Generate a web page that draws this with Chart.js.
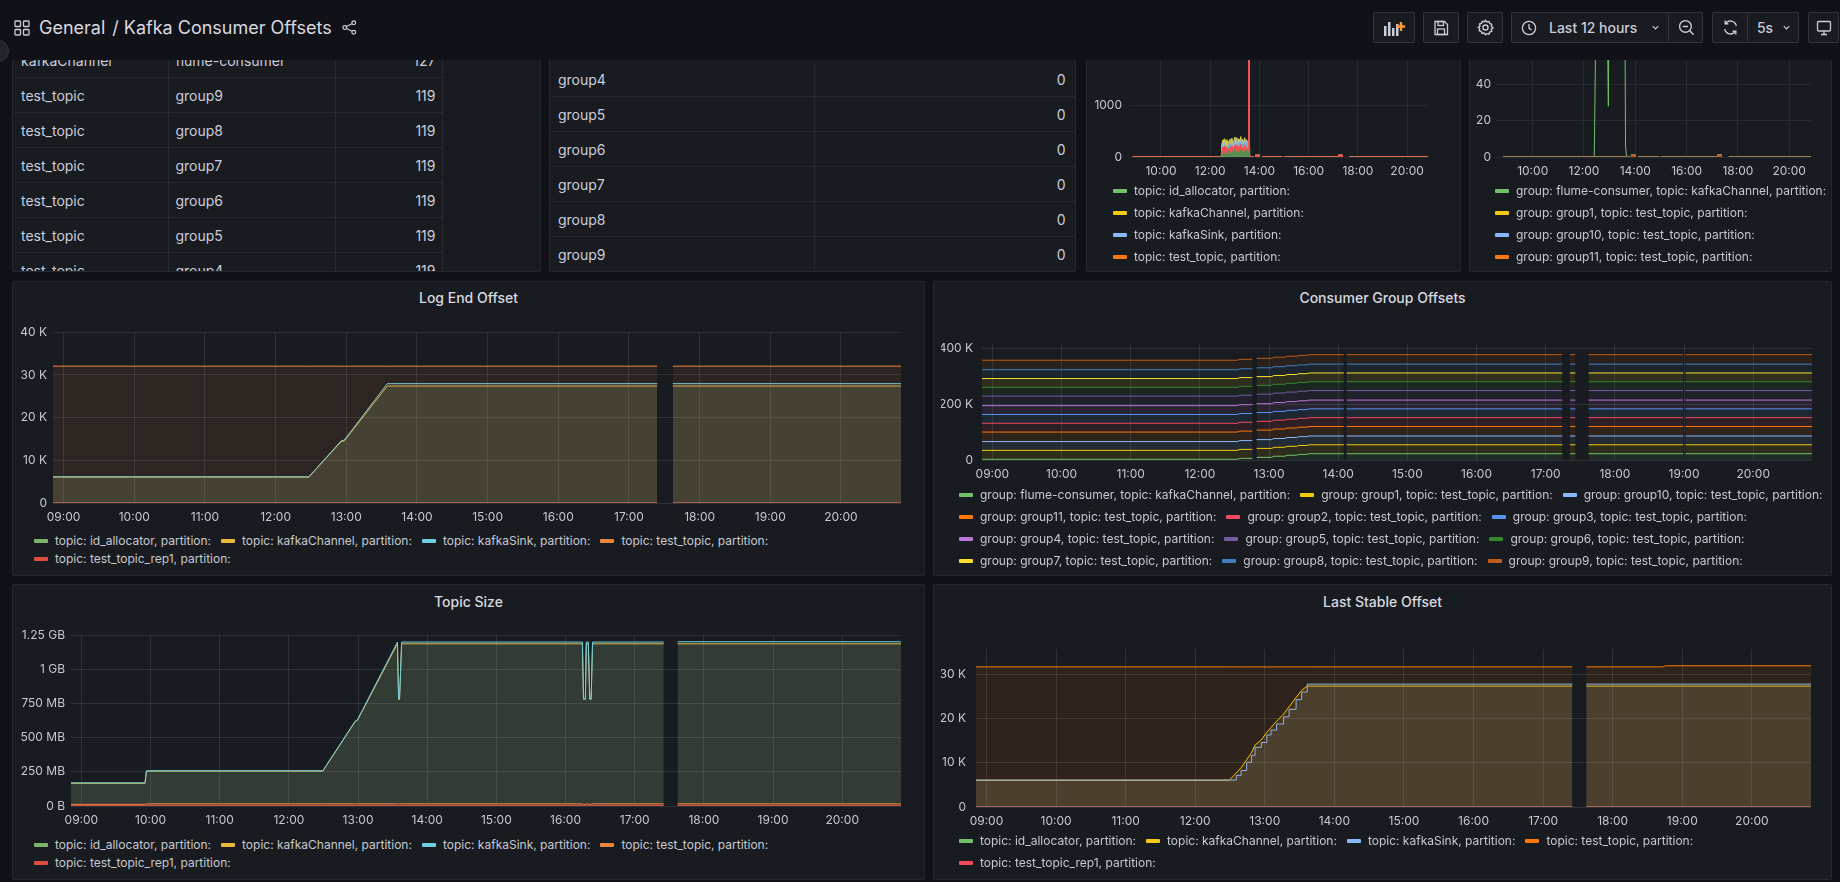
<!DOCTYPE html>
<html>
<head>
<meta charset="utf-8">
<title>Kafka Consumer Offsets</title>
<script src="https://cdn.jsdelivr.net/npm/chart.js@4.4.1/dist/chart.umd.min.js"></script>
<style>
  body { margin: 0; width: 1840px; height: 882px; overflow: hidden; background: #111217;
         font-family: Inter, "Noto Sans", sans-serif; color: #ccccdc; position: relative; }
  .panel { position: absolute; background: #181b1f; border: 1px solid rgba(204,204,220,0.08);
           border-radius: 2px; box-sizing: border-box; overflow: hidden; }
  .title { position: absolute; left: 0; right: 0; text-align: center; font-size: 14px;
           font-weight: 500; line-height: 18px; color: #d8d9e0; }
  .chart { position: absolute; }
  .legend { position: absolute; display: flex; flex-wrap: wrap; font-size: 12px; color: #c7c8d1; }
  .legend.col { flex-direction: column; flex-wrap: nowrap; }
  .legend .item { display: flex; align-items: center; margin-right: 10px; white-space: nowrap; }
  .legend .sw { width: 14px; height: 4px; border-radius: 1px; margin-right: 7px; flex: none; }
  table { position: absolute; border-collapse: collapse; table-layout: fixed; font-size: 14px; color: #ccccdc; }
  td { height: 34px; padding: 0 7px; border-bottom: 1px solid rgba(204,204,220,0.08);
       border-right: 1px solid rgba(204,204,220,0.08); white-space: nowrap; overflow: hidden; }
  td:last-child { text-align: right; }
  #header { position: absolute; left: 0; top: 0; width: 1840px; height: 60px; background: #111217; z-index: 10; }
  #crumb { position: absolute; left: 14px; top: 17px; display: flex; align-items: center;
           font-size: 18px; color: #d8d9e0; }
  .btn { position: absolute; top: 12px; height: 31px; box-sizing: border-box; background: #181b1f;
         border: 1px solid rgba(204,204,220,0.14); border-radius: 2px; display: flex; align-items: center;
         justify-content: center; color: #ccccdc; font-size: 14px; font-weight: 500; }
  .btn svg { display: block; }
  .sep { border-left: 1px solid rgba(204,204,220,0.14); }
</style>
</head>
<body>

<div id="header">
  <div id="crumb">
    <svg width="16" height="16" viewBox="0 0 16 16" fill="none" stroke="#ccccdc" stroke-width="1.3">
      <rect x="1" y="1" width="5.5" height="5.5" rx="0.8"/><rect x="9.5" y="1" width="5.5" height="5.5" rx="0.8"/>
      <rect x="1" y="9.5" width="5.5" height="5.5" rx="0.8"/><rect x="9.5" y="9.5" width="5.5" height="5.5" rx="0.8"/>
    </svg>
    <span style="margin-left:9px">General</span>
    <span style="margin-left:7px">/ Kafka Consumer Offsets</span>
    <svg style="margin-left:10px" width="15" height="15" viewBox="0 0 16 16" fill="none" stroke="#ccccdc" stroke-width="1.3">
      <circle cx="12.5" cy="3" r="2"/><circle cx="3" cy="8" r="2"/><circle cx="12.5" cy="13" r="2"/>
      <path d="M4.8 7 L10.7 4 M4.8 9 L10.7 12"/>
    </svg>
  </div>
  <div class="btn" style="left:1373px;width:42px">
    <svg width="22" height="18" viewBox="0 0 22 18"><g fill="#ccccdc"><rect x="1" y="7" width="2.5" height="10"/>
      <rect x="5" y="3" width="2.5" height="14"/><rect x="9" y="9" width="2.5" height="8"/><rect x="13" y="5" width="2.5" height="12"/></g>
      <path d="M18 3v9M13.5 7.5h9" stroke="#ff9830" stroke-width="2.4"/></svg>
  </div>
  <div class="btn" style="left:1423px;width:36px">
    <svg width="16" height="16" viewBox="0 0 16 16" fill="none" stroke="#ccccdc" stroke-width="1.3">
      <path d="M2 1.5h9.5l3 3v10h-12.5z"/><rect x="5" y="1.5" width="5.5" height="4"/><rect x="4.5" y="9" width="7" height="5.5"/></svg>
  </div>
  <div class="btn" style="left:1467px;width:36px">
    <svg width="17" height="17" viewBox="0 0 16 16" fill="none" stroke="#ccccdc" stroke-width="1.3">
      <circle cx="8" cy="8" r="2.4"/>
      <path d="M8 1.2l1.3 1.6 2-.4.7 1.9 1.9.7-.4 2 1.6 1.3-1.6 1.3.4 2-1.9.7-.7 1.9-2-.4L8 14.8l-1.3-1.6-2 .4-.7-1.9-1.9-.7.4-2L1.2 8l1.6-1.3-.4-2 1.9-.7.7-1.9 2 .4z"/></svg>
  </div>
  <div class="btn" style="left:1511px;width:192px;justify-content:flex-start">
    <svg style="margin-left:9px" width="16" height="16" viewBox="0 0 16 16" fill="none" stroke="#ccccdc" stroke-width="1.3">
      <circle cx="8" cy="8" r="6.6"/><path d="M8 4v4.3l2.6 1.6"/></svg>
    <span style="margin-left:12px">Last 12 hours</span>
    <svg style="margin-left:14px" width="9" height="9" viewBox="0 0 10 10" fill="none" stroke="#ccccdc" stroke-width="1.3"><path d="M2 3.5l3 3 3-3"/></svg>
    <div class="sep" style="position:absolute;left:156px;top:0;height:29px;width:35px;display:flex;align-items:center;justify-content:center">
      <svg width="17" height="17" viewBox="0 0 16 16" fill="none" stroke="#ccccdc" stroke-width="1.3">
        <circle cx="7" cy="7" r="5.5"/><path d="M11 11l3.8 3.8M4.5 7h5"/></svg>
    </div>
  </div>
  <div class="btn" style="left:1712px;width:87px;justify-content:flex-start">
    <svg style="margin-left:9px" width="17" height="17" viewBox="0 0 16 16" fill="none" stroke="#ccccdc" stroke-width="1.3">
      <path d="M13.5 6.5A5.8 5.8 0 0 0 3 4.5M2.5 9.5A5.8 5.8 0 0 0 13 11.5"/><path d="M3 1.5v3h3M13 14.5v-3h-3"/></svg>
    <div class="sep" style="position:absolute;left:34px;top:0;height:29px;width:52px;display:flex;align-items:center;justify-content:center">
      <span>5s</span>
      <svg style="margin-left:9px" width="9" height="9" viewBox="0 0 10 10" fill="none" stroke="#ccccdc" stroke-width="1.3"><path d="M2 3.5l3 3 3-3"/></svg>
    </div>
  </div>
  <div class="btn" style="left:1808px;width:31px">
    <svg width="16" height="16" viewBox="0 0 16 16" fill="none" stroke="#ccccdc" stroke-width="1.3">
      <rect x="1.5" y="1.5" width="13" height="9.5" rx="1"/><path d="M5 14.5h6M8 11v3.5"/></svg>
  </div>
  <div style="position:absolute;left:-13px;top:40px;width:20px;height:20px;border-radius:50%;background:#22252b;border:1px solid #33363d"></div>
</div>

<!-- top row -->
<div class="panel" style="left:12px;top:20px;width:529px;height:252px">
  <table id="tableOffsets" style="left:1px;top:22px;width:428px">
    <colgroup><col style="width:154px"><col style="width:167px"><col style="width:107px"></colgroup>
    <tbody></tbody>
  </table>
</div>
<div class="panel" style="left:549px;top:20px;width:527px;height:252px">
  <table id="tableLag" style="left:1px;top:41px;width:525px">
    <colgroup><col style="width:263px"><col style="width:262px"></colgroup>
    <tbody></tbody>
  </table>
</div>
<div class="panel" style="left:1086px;top:20px;width:375px;height:252px">
  <div class="chart" style="left:2px;top:18px;width:349px;height:142px"><canvas id="rateChart"></canvas></div>
  <div class="legend col" id="rateLegend" style="left:26px;top:159px;line-height:22px"></div>
</div>
<div class="panel" style="left:1469px;top:20px;width:363px;height:252px">
  <div class="chart" style="left:1px;top:15px;width:352px;height:145px"><canvas id="lagChart"></canvas></div>
  <div class="legend col" id="lagLegend" style="left:25px;top:159px;line-height:22px"></div>
</div>

<!-- middle row -->
<div class="panel" style="left:12px;top:281px;width:913px;height:295px">
  <div class="title" style="top:7px">Log End Offset</div>
  <div class="chart" style="left:2px;top:37px;width:896px;height:210px"><canvas id="leoChart"></canvas></div>
  <div class="legend" id="leoLegend" style="left:21px;top:250px;width:850px;line-height:18px"></div>
</div>
<div class="panel" style="left:933px;top:281px;width:899px;height:295px">
  <div class="title" style="top:7px">Consumer Group Offsets</div>
  <div class="chart" style="left:7px;top:45px;width:881px;height:158px"><canvas id="cgChart"></canvas></div>
  <div class="legend" id="cgLegend" style="left:25px;top:202px;width:950px;line-height:22px"></div>
</div>

<!-- bottom row -->
<div class="panel" style="left:12px;top:584px;width:913px;height:296px">
  <div class="title" style="top:8px">Topic Size</div>
  <div class="chart" style="left:2px;top:37px;width:896px;height:210px"><canvas id="tsChart"></canvas></div>
  <div class="legend" id="tsLegend" style="left:21px;top:251px;width:850px;line-height:18px"></div>
</div>
<div class="panel" style="left:933px;top:584px;width:899px;height:296px">
  <div class="title" style="top:8px">Last Stable Offset</div>
  <div class="chart" style="left:7px;top:47px;width:880px;height:201px"><canvas id="lsoChart"></canvas></div>
  <div class="legend" id="lsoLegend" style="left:25px;top:245px;width:820px;line-height:22px"></div>
</div>

<script>
// ---- names & palettes ----
var topics = ['id_allocator', 'kafkaChannel', 'kafkaSink', 'test_topic', 'test_topic_rep1'];
var groups = ['flume-consumer', 'group1', 'group10', 'group11', 'group2', 'group3',
              'group4', 'group5', 'group6', 'group7', 'group8', 'group9'];
var groupTopics = ['kafkaChannel', 'test_topic', 'test_topic', 'test_topic', 'test_topic', 'test_topic',
                   'test_topic', 'test_topic', 'test_topic', 'test_topic', 'test_topic', 'test_topic'];
var classicColors = ['#7EB26D', '#EAB839', '#6ED0E0', '#EF843C', '#E24D42'];
var paletteColors = ['#73BF69', '#F2CC0C', '#8AB8FF', '#FF780A', '#F2495C', '#5794F2',
                     '#B877D9', '#705DA0', '#37872D', '#FADE2A', '#447EBC', '#C15C17'];

// ---- axes (time in hours of the day) ----
var hourTicks = [9, 10, 11, 12, 13, 14, 15, 16, 17, 18, 19, 20];
var hourLabels = ['09:00', '10:00', '11:00', '12:00', '13:00', '14:00', '15:00', '16:00',
                  '17:00', '18:00', '19:00', '20:00'];
var twoHourTicks = [10, 12, 14, 16, 18, 20];

// ---- tables ----
var offsetRows = [
  ['kafkaChannel', 'flume-consumer', 127],
  ['test_topic', 'group9', 119],
  ['test_topic', 'group8', 119],
  ['test_topic', 'group7', 119],
  ['test_topic', 'group6', 119],
  ['test_topic', 'group5', 119],
  ['test_topic', 'group4', 119]
];
var lagRows = [['group4', 0], ['group5', 0], ['group6', 0], ['group7', 0], ['group8', 0], ['group9', 0]];

// ---- message rate per topic (stacked), top panel ----
var rateTimes = [8.85, 12.45, 12.48, 12.52, 12.55, 12.58, 12.62, 12.65, 12.68, 12.72, 12.76, 12.80,
  12.84, 12.88, 12.92, 12.95, 12.97, 13.00, 13.04, 13.08, 13.12, 13.16, 13.20, 13.24, 13.28, 13.32,
  13.36, 13.40, 13.44, 13.48, 13.52, 13.55, 13.57, 13.60, 13.77, 13.85, 13.92, 14.00, 14.11, 14.93,
  14.96, 15.00, 17.20, 17.24, 17.29, 17.40, 17.65, 20.85];
var rateIdAllocator = [0, 0, 0, 0, 0, 0, 0, 0, 0, 0, 0, 0, 0, 0, 0, 0, 0, 0, 0, 0, 0, 0, 0, 0, 0, 0,
  0, 0, 0, 0, 0, 0, 0, 0, 0, null, 0, null, 0, 0, null, 0, 0, null, 0, null, 0, 0];
var rateKafkaChannel = [0, 0, 125, 130, 130, 132, 130, 131, 130, 132, 130, 131, 130, 130, 128, 60,
  138, 140, 140, 138, 140, 139, 140, 140, 138, 140, 140, 139, 140, 140, 140, 138, 140, 0, 0, null,
  0, null, 0, 0, null, 0, 0, null, 0, null, 0, 0];
var rateKafkaSink = [0, 0, 10, 10, 10, 10, 10, 10, 10, 10, 10, 10, 10, 10, 10, 10, 10, 10, 10, 10,
  10, 10, 10, 10, 10, 10, 10, 10, 10, 10, 10, 10, 10, 0, 0, null, 0, null, 0, 0, null, 0, 0, null,
  0, null, 0, 0];
var rateTestTopic = rateIdAllocator;
var rateTestTopicRep1 = [0, 0, 115, 190, 80, 208, 100, 189, 60, 158, 120, 199, 90, 220, 112, 130,
  182, 230, 110, 222, 90, 201, 130, 240, 112, 190, 100, 221, 130, 180, 110, 152, 2850, 0, 0, null,
  0, null, 0, 0, null, 0, 0, null, 0, null, 0, 0];

// ---- consumer lag, top panel ----
var lagTimes = [8.85, 12.40, 12.53, 12.85, 12.95, 13.00, 13.57, 13.62, 13.66, 13.77, 13.85, 13.92,
  14.00, 14.11, 14.93, 14.96, 15.00, 17.20, 17.24, 17.29, 17.40, 17.65, 20.85];
var lagFlume = [0, 0, 150, 150, 28, 150, 150, 6, 0, 0, null, 0, null, 0, 0, null, 0, 0, null, 0, null, 0, 0];
var lagTestTopicGroups = [0, 0, 0, 0, 0, 0, 0, 0, 0, 0, null, 0, null, 0, 0, null, 0, 0, null, 0, null, 0, 0];

// ---- Log End Offset ----
var leoTimes = [8.85, 12.47, 12.93, 12.97, 13.58, 17.40, 17.50, 17.62, 20.85];
var leoIdAllocator = [0, 0, 0, 0, 0, 0, null, 0, 0];
var leoKafkaChannel = [6050, 6050, 14400, 14500, 27400, 27400, null, 27400, 27400];
var leoKafkaSink = [6150, 6150, 14600, 14700, 27950, 27950, null, 27950, 27950];
var leoTestTopic = [32050, 32050, 32050, 32050, 32050, 32050, null, 32050, 32050];
var leoTestTopicRep1 = [0, 0, 0, 0, 0, 0, null, 0, 0];
var leoYTicks = [0, 10000, 20000, 30000, 40000];
var leoYLabels = ['0', '10 K', '20 K', '30 K', '40 K'];

// ---- Consumer Group Offsets (stacked) ----
var cgTimes = [8.85, 12.54, 12.58, 12.76, 12.79, 12.82, 13.04, 13.07, 13.23, 13.26, 13.40, 13.43,
  13.55, 13.58, 14.08, 14.10, 14.12, 17.24, 17.30, 17.35, 17.43, 17.50, 17.62, 18.99, 19.005,
  19.02, 20.85];
var cgFlume = [2500, 2500, 6000, 6000, null, 9500, 9500, 13500, 13500, 17000, 17000, 20000, 20000,
  22500, 22500, null, 22500, 22500, null, 22500, 22500, null, 22500, 22500, null, 22500, 22500];
// group1 .. group9 in legend order, each flat over the window
var cgGroupOffsets = [32000, 31500, 34000, 31500, 31500, 31500, 34000, 31500, 31500, 31500, 34000];
var cgYTicks = [0, 200000, 400000];
var cgYLabels = ['0', '200 K', '400 K'];

// ---- Topic Size (MB) ----
var tsTimes = [8.85, 9.92, 9.94, 12.49, 12.96, 12.99, 13.57, 13.586, 13.60, 13.63, 16.244, 16.26,
  16.286, 16.30, 16.33, 16.35, 16.37, 16.39, 17.42, 17.50, 17.62, 20.85];
var tsIdAllocator = [0, 0, 0, 0, 0, 0, 0, 0, 0, 0, 0, 0, 0, 0, 0, 0, 0, 0, 0, null, 0, 0];
var tsKafkaChannel = [166, 166, 255, 255, 618, 626, 1187, 780, 780, 1187, 1187, 780, 780, 1187,
  1187, 780, 780, 1187, 1187, null, 1187, 1187];
var tsKafkaSink = [170, 170, 258, 258, 622, 630, 1200, 785, 785, 1200, 1200, 785, 785, 1200, 1200,
  785, 785, 1200, 1200, null, 1202, 1202];
var tsTestTopic = [12, 12, 16, 16, 16, 16, 16, 16, 16, 16, 16, 12, 12, 16, 16, 12, 12, 16, 16, null, 16, 16];
var tsTestTopicRep1 = [5, 5, 5, 5, 5, 5, 5, 5, 5, 5, 5, 5, 5, 5, 5, 5, 5, 5, 5, null, 5, 5];
var tsYTicks = [0, 250, 500, 750, 1000, 1250];
var tsYLabels = ['0 B', '250 MB', '500 MB', '750 MB', '1 GB', '1.25 GB'];

// ---- Last Stable Offset ----
var lsoTimes = [8.85, 12.49, 12.59, 12.66, 12.74, 12.81, 12.86, 12.95, 13.03, 13.09, 13.17, 13.27,
  13.35, 13.45, 13.53, 13.61, 17.42, 17.50, 17.62, 18.72, 18.76, 20.85];
var lsoIdAllocator = [0, 0, 0, 0, 0, 0, 0, 0, 0, 0, 0, 0, 0, 0, 0, 0, 0, null, 0, 0, 0, 0];
var lsoKafkaChannel = [6050, 6050, 7700, 8900, 10700, 12300, 14000, 15200, 16900, 18000, 19400,
  21000, 22700, 24800, 26400, 27350, 27350, null, 27350, 27350, 27350, 27350];
var lsoKafkaSink = [6100, 6100, 7150, 8250, 10100, 11700, 13500, 14600, 16300, 17400, 18800, 20400,
  22100, 24300, 26000, 27800, 27800, null, 27800, 27800, 27800, 27800];
var lsoTestTopic = [31700, 31700, 31700, 31700, 31700, 31700, 31700, 31700, 31700, 31700, 31700,
  31700, 31700, 31700, 31700, 31700, 31700, null, 31700, 31700, 31950, 31950];
var lsoTestTopicRep1 = [0, 0, 0, 0, 0, 0, 0, 0, 0, 0, 0, 0, 0, 0, 0, 0, 0, null, 0, 0, 0, 0];
var lsoYTicks = [0, 10000, 20000, 30000];
var lsoYLabels = ['0', '10 K', '20 K', '30 K'];

// ---- helpers ----
var axisText = '#c7c8d1';
var gridOld = 'rgba(204,204,220,0.13)';
var gridNew = 'rgba(204,204,220,0.09)';
Chart.defaults.font.family = 'Inter, "Noto Sans", sans-serif';
Chart.defaults.font.size = 12;
Chart.defaults.color = axisText;

function hexA(hex, a) {
  var n = parseInt(hex.slice(1), 16);
  return 'rgba(' + (n >> 16) + ',' + ((n >> 8) & 255) + ',' + (n & 255) + ',' + a + ')';
}

function points(times, values) {
  return times.map(function (t, i) { return { x: t, y: values[i] }; });
}

// isolated samples are drawn as small squares, like grafana does
function dotRadius(ctx) {
  if (ctx.type !== 'data') return 0;
  var d = ctx.dataset.data, i = ctx.dataIndex;
  if (d[i].y === null) return 0;
  var prev = i > 0 ? d[i - 1].y : null;
  var next = i < d.length - 1 ? d[i + 1].y : null;
  return (prev === null && next === null) ? 3.2 : 0;
}

function line(times, values, color, extra) {
  var ds = {
    data: points(times, values), borderColor: color, backgroundColor: color,
    borderWidth: 1, pointRadius: 0, fill: false, spanGaps: false, tension: 0
  };
  for (var k in extra) ds[k] = extra[k];
  return ds;
}

function makeChart(id, c) {
  return new Chart(document.getElementById(id), {
    type: 'line',
    data: { datasets: c.datasets },
    options: {
      responsive: true, maintainAspectRatio: false, animation: false,
      layout: { padding: { top: c.padTop, right: c.padRight, left: 0, bottom: 0 } },
      plugins: { legend: { display: false }, tooltip: { enabled: false } },
      scales: {
        x: {
          type: 'linear', min: c.xMin, max: c.xMax,
          afterBuildTicks: function (s) { s.ticks = c.xTicks.map(function (v) { return { value: v }; }); },
          afterFit: function (s) { s.height = c.xHeight; },
          ticks: {
            callback: function (v) { return hourLabels[hourTicks.indexOf(v)]; },
            padding: 7, maxRotation: 0, autoSkip: false, color: axisText
          },
          grid: { color: c.grid, drawTicks: false }, border: { display: false }
        },
        y: {
          min: 0, max: c.yMax, stacked: !!c.stacked,
          afterBuildTicks: function (s) { s.ticks = c.yTicks.map(function (v) { return { value: v }; }); },
          afterFit: function (s) { s.width = c.yWidth; },
          ticks: {
            callback: function (v) { return c.yLabels[c.yTicks.indexOf(v)]; },
            padding: c.yPad, autoSkip: false, color: axisText
          },
          grid: { color: c.grid, drawTicks: false }, border: { display: false }
        }
      }
    }
  });
}

function legend(id, labels, colors) {
  var el = document.getElementById(id);
  labels.forEach(function (label, i) {
    var item = document.createElement('div');
    item.className = 'item';
    var sw = document.createElement('span');
    sw.className = 'sw';
    sw.style.background = colors[i];
    var tx = document.createElement('span');
    tx.textContent = label;
    item.appendChild(sw);
    item.appendChild(tx);
    el.appendChild(item);
  });
}

function fillTable(id, rows) {
  var body = document.querySelector('#' + id + ' tbody');
  rows.forEach(function (r) {
    var tr = document.createElement('tr');
    r.forEach(function (v) {
      var td = document.createElement('td');
      td.textContent = v;
      tr.appendChild(td);
    });
    body.appendChild(tr);
  });
}

// ---- tables ----
fillTable('tableOffsets', offsetRows);
fillTable('tableLag', lagRows);
document.querySelectorAll('#tableLag td:last-child').forEach(function (td) { td.style.paddingRight = '10px'; });
document.querySelectorAll('#tableOffsets td:last-child').forEach(function (td) { td.style.paddingRight = '6px'; });

var topicLabels = topics.map(function (t) { return 'topic: ' + t + ', partition:'; });
var groupLabels = groups.map(function (g, i) { return 'group: ' + g + ', topic: ' + groupTopics[i] + ', partition:'; });

// ---- rate (stacked areas) ----
var rateSeries = [rateIdAllocator, rateKafkaChannel, rateKafkaSink, rateTestTopic, rateTestTopicRep1];
makeChart('rateChart', {
  datasets: rateSeries.map(function (vals, i) {
    return line(rateTimes, vals, paletteColors[i], {
      stack: 'rate', fill: i ? '-1' : 'origin', backgroundColor: hexA(paletteColors[i], 0.7),
      pointRadius: dotRadius, pointStyle: 'rect', pointBackgroundColor: paletteColors[i],
      pointBorderWidth: 0, order: -i
    });
  }),
  stacked: true, xMin: 8.70, xMax: 20.85, xTicks: twoHourTicks, xHeight: 24,
  yMax: 2000, yTicks: [0, 1000, 2000], yLabels: ['0', '1000', '2000'],
  yWidth: 40, yPad: 7, padTop: 11, padRight: 10, grid: gridNew
});
legend('rateLegend', topicLabels, paletteColors);

// ---- lag lines ----
var lagSeries = groups.map(function (g, i) { return i === 0 ? lagFlume : lagTestTopicGroups; });
makeChart('lagChart', {
  datasets: lagSeries.map(function (vals, i) {
    return line(lagTimes, vals, paletteColors[i], {
      pointRadius: dotRadius, pointStyle: 'rect', pointBackgroundColor: paletteColors[i],
      pointBorderWidth: 0, order: -i
    });
  }),
  xMin: 8.57, xMax: 20.85, xTicks: twoHourTicks, xHeight: 24,
  yMax: 60, yTicks: [0, 20, 40, 60], yLabels: ['0', '20', '40', '60'],
  yWidth: 25, yPad: 5, padTop: 10, padRight: 12, grid: gridNew
});
legend('lagLegend', groupLabels, paletteColors);

// ---- Log End Offset ----
var leoSeries = [leoIdAllocator, leoKafkaChannel, leoKafkaSink, leoTestTopic, leoTestTopicRep1];
makeChart('leoChart', {
  datasets: leoSeries.map(function (vals, i) {
    return line(leoTimes, vals, classicColors[i], {
      fill: 'origin', backgroundColor: hexA(classicColors[i], 0.1), order: -i
    });
  }),
  xMin: 8.85, xMax: 20.85, xTicks: hourTicks, xHeight: 26,
  yMax: 40000, yTicks: leoYTicks, yLabels: leoYLabels,
  yWidth: 38, yPad: 6, padTop: 12, padRight: 10, grid: gridOld
});
legend('leoLegend', topicLabels, classicColors);

// ---- Consumer Group Offsets ----
var cgSeries = [cgFlume].concat(cgGroupOffsets.map(function (v) {
  return cgFlume.map(function (f) { return f === null ? null : v; });
}));
makeChart('cgChart', {
  datasets: cgSeries.map(function (vals, i) {
    return line(cgTimes, vals, paletteColors[i], {
      stack: 'cg', fill: i ? '-1' : 'origin', backgroundColor: hexA(paletteColors[i], 0.1)
    });
  }),
  stacked: true, xMin: 8.85, xMax: 20.85, xTicks: hourTicks, xHeight: 25,
  yMax: 418000, yTicks: cgYTicks, yLabels: cgYLabels,
  yWidth: 41, yPad: 9, padTop: 12, padRight: 10, grid: gridOld
});
legend('cgLegend', groupLabels, paletteColors);

// ---- Topic Size ----
var tsSeries = [tsIdAllocator, tsKafkaChannel, tsKafkaSink, tsTestTopic, tsTestTopicRep1];
makeChart('tsChart', {
  datasets: tsSeries.map(function (vals, i) {
    return line(tsTimes, vals, classicColors[i], {
      fill: 'origin', backgroundColor: hexA(classicColors[i], 0.1), order: -i
    });
  }),
  xMin: 8.85, xMax: 20.85, xTicks: hourTicks, xHeight: 26,
  yMax: 1250, yTicks: tsYTicks, yLabels: tsYLabels,
  yWidth: 56, yPad: 6, padTop: 12, padRight: 10, grid: gridOld
});
legend('tsLegend', topicLabels, classicColors);

// ---- Last Stable Offset ----
var lsoSeries = [lsoIdAllocator, lsoKafkaChannel, lsoKafkaSink, lsoTestTopic, lsoTestTopicRep1];
makeChart('lsoChart', {
  datasets: lsoSeries.map(function (vals, i) {
    return line(lsoTimes, vals, paletteColors[i], {
      fill: 'origin', backgroundColor: hexA(paletteColors[i], 0.1), order: -i,
      stepped: i === 2 ? 'before' : false
    });
  }),
  xMin: 8.85, xMax: 20.85, xTicks: hourTicks, xHeight: 26,
  yMax: 35700, yTicks: lsoYTicks, yLabels: lsoYLabels,
  yWidth: 35, yPad: 10, padTop: 12, padRight: 10, grid: gridOld
});
legend('lsoLegend', topicLabels, paletteColors);
</script>
</body>
</html>
